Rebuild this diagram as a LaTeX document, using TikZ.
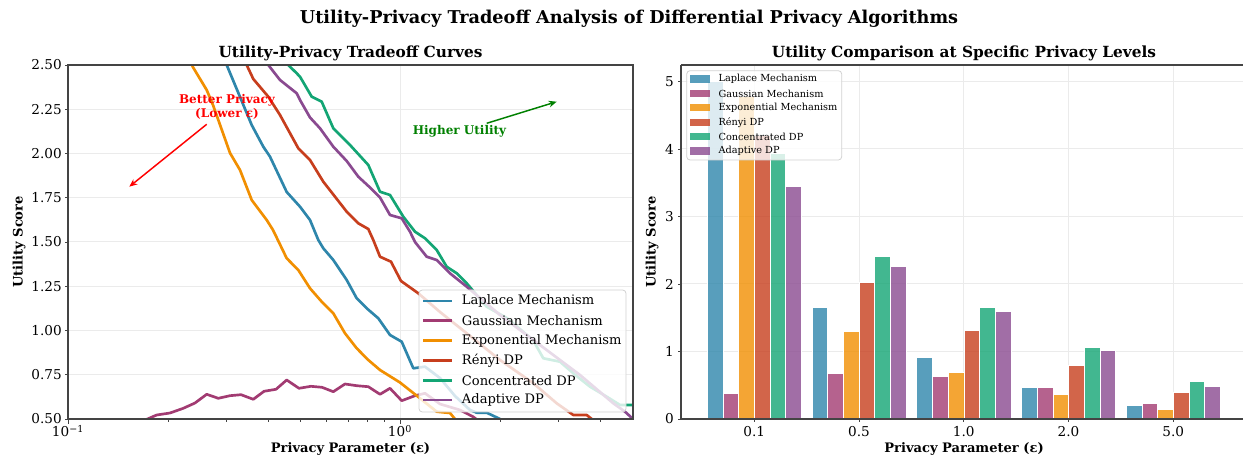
\documentclass[tikz,border=0pt]{standalone}
\usepackage{fontspec}
\setmainfont{DejaVu Serif}
\usetikzlibrary{arrows.meta}

\definecolor{cLap}{HTML}{2E86AB}
\definecolor{cGau}{HTML}{A23B72}
\definecolor{cExp}{HTML}{F18F01}
\definecolor{cRen}{HTML}{C73E1D}
\definecolor{cCon}{HTML}{13A574}
\definecolor{cAda}{HTML}{8A4A90}
\definecolor{gridc}{HTML}{EBEBEB}
\definecolor{spinec}{HTML}{444444}
\definecolor{annogreen}{HTML}{008000}

\begin{document}
\begin{tikzpicture}[x=0.75pt,y=-0.75pt,
  curve/.style={line width=2pt,line join=round,line cap=butt},
  gridline/.style={draw=gridc,line width=0.75pt},
  spine/.style={draw=spinec,line width=0.8pt},
  tickmark/.style={draw=spinec,line width=0.6pt},
  ticklab/.style={font=\fontsize{10.2}{11}\selectfont,inner sep=0pt},
  axlab/.style={font=\bfseries\fontsize{9.8}{11}\selectfont,inner sep=0pt},
  subtitle/.style={font=\bfseries\fontsize{11.5}{13}\selectfont,inner sep=0pt},
  legbox/.style={draw=gray!35,fill=white,fill opacity=0.8,rounded corners=2.5pt,line width=0.6pt},
  legtxt/.style={anchor=west,inner sep=0pt,font=\fontsize{9.8}{10}\selectfont},
  legtxtsmall/.style={anchor=west,inner sep=0pt,font=\fontsize{7.3}{8}\selectfont},
  annot/.style={font=\bfseries\fontsize{9}{10.5}\selectfont,inner sep=0pt}
]
\useasboundingbox (0,0) rectangle (1243,459);

% ---------- figure title ----------
\node[font=\bfseries\fontsize{13.25}{15}\selectfont,inner sep=0pt] (figtitle) at (629,19)
  {Utility-Privacy Tradeoff Analysis of Differential Privacy Algorithms};

% =====================================================================
% Left panel: tradeoff curves (log x axis, 0.1 .. 5)
% =====================================================================
\node[subtitle] (ltitle) at (350.5,53) {Utility-Privacy Tradeoff Curves};

% grid
\foreach \yy in {109.25,153.5,197.75,242,286.25,330.5,374.75}
  \draw[gridline] (68,\yy) -- (633,\yy);
\draw[gridline] (400,65) -- (400,419);

% curves, clipped to the axes
\begin{scope}
\clip (68,65) rectangle (633,419);
\draw[curve,cLap] plot coordinates {(223,55) (226.7,65) (251.7,125) (263.3,146.7) (270,156.7) (286.7,192) (300,206.7) (310,220) (318.3,240) (323.3,248.3) (333.3,260) (346.7,280) (356.7,298.3) (366.7,308.3) (378.3,318.3) (390,335) (401.7,341.7) (413.3,368.3) (425,366.7) (440,378) (455,396) (470,410) (476.7,412.7) (486.7,412.7) (500,419) (505,425)};
\draw[curve,cGau] plot coordinates {(140,425) (146.7,419.3) (156.7,415) (170,413) (183.3,408.3) (195,403) (206.7,394.3) (218.3,398.3) (230,395.7) (241,394.7) (253.3,399.3) (264,391.3) (276,389.3) (286.7,380) (299,388.3) (311,386.3) (322,387.3) (333.3,391.7) (345,384) (356.7,385.7) (368.3,386.7) (380,394.3) (390,388.3) (401.7,400.7) (415,395.7) (425,393.3) (440,404) (460,410) (473,416.7) (480,422)};
\draw[curve,cExp] plot coordinates {(189,55) (192.7,66.7) (206.7,90) (213,105) (230,153) (240,170) (251.7,200) (266.7,220) (273,230) (286.7,258.3) (298.3,270) (310,288.3) (321.7,301.7) (333.3,313.3) (345,333.3) (356.7,348.3) (368.3,360) (380,370) (400,382.5) (416.7,395.7) (436.7,411.7) (450,413) (455,419) (460,425)};
\draw[curve,cRen] plot coordinates {(244,55) (246.7,65) (253.3,79) (268.3,96.7) (280,115) (298.3,148.3) (310,160) (323.3,181.7) (335,196.7) (346.7,211.7) (358.3,223.3) (368.3,229) (373.3,240) (380,256.7) (391,261.7) (401,281) (418.3,293.3) (440,312) (466.7,333.3) (500,360) (533,383) (556.7,403.3) (573.3,415) (586.7,415) (591.7,419) (597,425)};
\draw[curve,cCon] plot coordinates {(282,55) (288.3,65) (296.7,73.3) (300,76.7) (311.7,96.7) (321.7,101.7) (333.3,128.3) (350,145) (368.3,165) (380,191.7) (390,195) (403.3,216.7) (415,231.7) (425,238.3) (436.7,250) (446.7,266.7) (456.7,273.3) (466.7,283.3) (486.7,306.7) (506.7,318) (533,340) (543.3,358.3) (560,361.7) (573.3,373.3) (590,386.7) (606.7,396.7) (620,405) (633,405) (640,405)};
\draw[curve,cAda] plot coordinates {(264,55) (268.3,65) (280,80) (296.7,93.3) (300,100) (310,117.5) (320,128.3) (333.3,146.7) (346.7,161) (358.3,176.7) (370,187.5) (380,197.5) (390,215) (401.7,218.3) (410,231.7) (415,242) (426.7,256.7) (436.7,260) (450,273.3) (466.7,286.7) (500,315) (540,345) (580,375) (600,392) (613.3,403.3) (625,411.7) (633,419) (640,425)};
\end{scope}

% spines
\draw[spine] (68,65) rectangle (633,419);

% y ticks and labels
\foreach \yy/\lab in {65/2.50,109.25/2.25,153.5/2.00,197.75/1.75,242/1.50,286.25/1.25,330.5/1.00,374.75/0.75,419/0.50}{
  \draw[tickmark] (68,\yy) -- (64.5,\yy);
  \node[ticklab,anchor=east] at (62,\yy) {\lab};
}
% x ticks (major and minor, log scale)
\draw[tickmark] (68,419) -- (68,424);
\draw[tickmark] (400,419) -- (400,424);
\foreach \xx in {168,226.4,267.9,300.1,326.4,348.6,367.8,384.8,500,558.4,599.9}
  \draw[tickmark] (\xx,419) -- (\xx,422);
\node[ticklab] (xl1) at (68,431) {10\textsuperscript{\char"2212 1}};
\node[ticklab] (xl2) at (400,431) {10\textsuperscript{0}};

% axis labels
\node[axlab] (lxlab) at (350.5,449) {Privacy Parameter (ε)};
\node[axlab,rotate=90] (lylab) at (19,242) {Utility Score};

% annotations
\node[annot,text=red,align=center] (better) at (227,107) {Better Privacy\\(Lower ε)};
\coordinate (betterTail) at (206.7,124.3);
\coordinate (betterHead) at (129.3,186.7);
\draw[red,line width=1.1pt,-{Stealth[length=6pt,width=5pt]}] (betterTail) -- (betterHead);

\node[annot,text=annogreen] (higher) at (459.5,131.7) {Higher Utility};
\coordinate (higherTail) at (486.7,123.3);
\coordinate (higherHead) at (556.7,101.7);
\draw[annogreen,line width=1.1pt,-{Stealth[length=6pt,width=5pt]}] (higherTail) -- (higherHead);

% legend
\draw[legbox] (419,290) rectangle (626,412);
\foreach \c/\lab [count=\i from 0] in {cLap/Laplace Mechanism,cGau/Gaussian Mechanism,cExp/Exponential Mechanism,cRen/Rényi DP,cCon/Concentrated DP,cAda/Adaptive DP}{
  \pgfmathsetmacro{\ry}{301+19.8*\i}
  \draw[curve,\c] (423.3,\ry) -- (451.7,\ry);
  \node[legtxt] at (461.7,\ry) {\lab};
}

% =====================================================================
% Right panel: grouped bars at selected epsilon values
% =====================================================================
\node[subtitle] (rtitle) at (964,53) {Utility Comparison at Specific Privacy Levels};

\foreach \yy in {81.5,149,216.5,284,351.5}
  \draw[gridline] (681,\yy) -- (1243,\yy);
\foreach \xx in {754.3,859.05,963.8,1068.55,1173.3}
  \draw[gridline] (\xx,65) -- (\xx,419);

% bars: one row of values per method
\def\bw{15.7}
\foreach \c/\off/\va/\vb/\vc/\vd/\ve in {
  cLap/-3/5.00/1.66/0.91/0.47/0.20,
  cGau/-2/0.38/0.68/0.63/0.47/0.23,
  cExp/-1/4.78/1.30/0.69/0.36/0.15,
  cRen/0/4.20/2.03/1.32/0.80/0.39,
  cCon/1/3.94/2.41/1.66/1.07/0.56,
  cAda/2/3.45/2.26/1.60/1.02/0.49}{
  \foreach \cx/\v in {754.3/\va,859.05/\vb,963.8/\vc,1068.55/\vd,1173.3/\ve}{
    \pgfmathsetmacro{\xl}{\cx+\off*\bw}
    \pgfmathsetmacro{\xr}{\cx+(\off+1)*\bw}
    \pgfmathsetmacro{\yt}{419-67.5*\v}
    \fill[\c,opacity=0.8] (\xl,419) rectangle (\xr,\yt);
    \draw[white,line width=0.4pt] (\xl,419) -- (\xl,\yt) -- (\xr,\yt) -- (\xr,419);
  }
}

% spines
\draw[spine] (681,65) -- (1243,65);
\draw[spine] (681,65) -- (681,419) -- (1243,419);

% ticks and labels
\foreach \yy/\lab in {419/0,351.5/1,284/2,216.5/3,149/4,81.5/5}{
  \draw[tickmark] (681,\yy) -- (677.5,\yy);
  \node[ticklab,anchor=east] at (674,\yy) {\lab};
}
\foreach \xx/\lab in {754.3/0.1,859.05/0.5,963.8/1.0,1068.55/2.0,1173.3/5.0}{
  \draw[tickmark] (\xx,419) -- (\xx,422.5);
  \node[ticklab] at (\xx,432) {\lab};
}

\node[axlab] (rxlab) at (964,449) {Privacy Parameter (ε)};
\node[axlab,rotate=90] (rylab) at (652,242) {Utility Score};

% legend
\draw[legbox] (686.7,70.7) rectangle (841.7,160);
\foreach \c/\lab [count=\i from 0] in {cLap/Laplace Mechanism,cGau/Gaussian Mechanism,cExp/Exponential Mechanism,cRen/Rényi DP,cCon/Concentrated DP,cAda/Adaptive DP}{
  \pgfmathsetmacro{\ry}{79+14.4*\i}
  \fill[\c,opacity=0.8] (690,\ry-3.6) rectangle (710,\ry+3.6);
  \node[legtxtsmall] at (718.3,\ry) {\lab};
}

\end{tikzpicture}
\end{document}
